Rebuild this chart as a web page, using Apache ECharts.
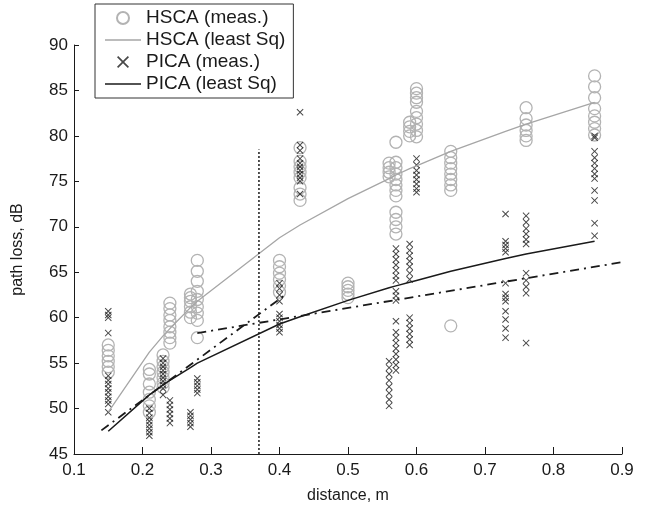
<!DOCTYPE html>
<html>
<head>
<meta charset="utf-8">
<title>path loss vs distance</title>
<script src="https://cdn.jsdelivr.net/npm/echarts@6/dist/echarts.min.js"></script>
<style>
  html, body { margin: 0; padding: 0; background: #fff; }
  #chart { width: 660px; height: 513px; }
</style>
</head>
<body>
<div id="chart"></div>
<script>
'use strict';

// measured path loss (dB), grouped by distance (m)
const hscaDist = [0.15, 0.21, 0.23, 0.24, 0.27, 0.28, 0.40, 0.43, 0.50, 0.56, 0.57, 0.59, 0.60, 0.65, 0.76, 0.86];
const hscaMeas = [
    [57.0, 56.4, 55.8, 55.2, 54.6, 54.0],
    [54.3, 53.8, 52.7, 51.8, 51.0, 50.3, 49.6],
    [55.9, 55.2, 54.6, 54.0, 53.4, 52.8, 52.3],
    [61.6, 61.0, 60.3, 59.7, 59.0, 58.4, 57.8, 57.2],
    [62.6, 62.2, 61.8, 61.2, 60.6, 60.0],
    [66.3, 65.1, 64.0, 62.9, 62.0, 61.2, 60.5, 59.7, 57.8],
    [66.3, 65.6, 64.9, 64.2, 63.5, 62.8],
    [78.7, 77.2, 76.6, 76.0, 75.4, 74.3, 73.6, 72.9],
    [63.8, 63.4, 63.0, 62.6, 62.2],
    [77.0, 76.5, 76.0, 75.5],
    [79.3, 77.1, 76.5, 75.8, 75.2, 74.6, 74.0, 73.4, 71.6, 70.8, 70.0, 69.2],
    [81.5, 81.0, 80.5, 80.0],
    [85.2, 84.7, 84.2, 83.7, 82.7, 82.0, 81.3, 80.6, 79.9],
    [78.3, 77.6, 77.0, 76.4, 75.8, 75.2, 74.6, 74.0, 59.1],
    [83.1, 81.9, 81.2, 80.6, 80.0, 79.5],
    [86.6, 85.4, 84.2, 83.0, 82.2, 81.5, 80.8, 80.1]
];

const picaDist = [0.15, 0.21, 0.23, 0.24, 0.27, 0.28, 0.40, 0.43, 0.56, 0.57, 0.59, 0.60, 0.73, 0.76, 0.86];
const picaMeas = [
    [60.7, 60.3, 60.0, 58.3, 53.6, 53.1, 52.7, 52.2, 51.8, 51.3, 50.9, 50.5, 49.6],
    [50.0, 49.5, 49.0, 48.6, 48.2, 47.8, 47.4, 47.0],
    [55.5, 55.0, 54.6, 54.2, 53.8, 53.4, 53.0, 52.6, 52.2, 51.5],
    [50.9, 50.4, 49.9, 49.4, 48.9, 48.4],
    [49.6, 49.2, 48.8, 48.4, 48.0],
    [53.3, 52.9, 52.5, 52.1, 51.7],
    [63.8, 63.2, 62.5, 61.8, 60.4, 60.0, 59.6, 59.2, 58.8, 58.4],
    [82.6, 79.0, 78.4, 77.5, 77.0, 76.6, 76.2, 75.8, 75.4, 75.0, 73.6],
    [55.2, 54.5, 53.8, 53.1, 52.4, 51.7, 51.0, 50.3],
    [67.6, 67.0, 66.4, 65.8, 65.2, 64.6, 64.1, 62.9, 62.4, 61.9, 59.6, 58.4, 57.8, 57.2, 56.6, 56.0, 55.4, 54.8, 54.2],
    [68.1, 67.4, 66.8, 66.2, 65.6, 64.9, 64.2, 60.0, 59.4, 58.8, 58.2, 57.6, 57.0],
    [77.5, 76.8, 76.2, 75.7, 75.2, 74.7, 74.2, 73.8],
    [71.4, 68.4, 68.0, 67.6, 67.2, 63.8, 62.6, 62.2, 61.8, 60.7, 59.8, 58.8, 57.8],
    [71.2, 70.5, 69.8, 69.2, 68.6, 68.1, 64.9, 64.1, 63.4, 62.7, 57.2],
    [80.0, 79.8, 78.3, 77.6, 77.0, 76.4, 75.8, 75.3, 74.0, 72.9, 70.4, 69.0]
];

// least squares fits
const fitDist = [0.15, 0.21, 0.23, 0.24, 0.27, 0.28, 0.40, 0.43, 0.50, 0.56, 0.57, 0.59, 0.60, 0.65, 0.73, 0.76, 0.86];
const hscaFit = [49.6, 56.2, 58.0, 58.8, 61.1, 61.8, 68.8, 70.2, 73.1, 75.3, 75.7, 76.4, 76.7, 78.3, 80.5, 81.3, 83.7];
const picaFit = [47.5, 51.5, 52.6, 53.1, 54.5, 55.0, 59.3, 60.1, 61.9, 63.3, 63.5, 63.9, 64.1, 65.1, 66.5, 67.0, 68.4];

// dual-slope model and break point
const nearDist = [0.14, 0.41];
const nearLoss = [47.6, 62.6];
const farDist = [0.28, 0.90];
const farLoss = [58.3, 66.1];
const breakDist = [0.37, 0.37];
const breakLoss = [45, 78.5];

const xTicks = [0.1, 0.9, 0.1];   // min, max, step
const yTicks = [45, 90, 5];

const pairs = (xs, ys) => xs.map((x, i) => [x, ys[i]]);
const groups = (xs, yss) => xs.flatMap((x, i) => yss[i].map(y => [x, y]));

const crossPath = 'path://M0,1L1,0L5,4L9,0L10,1L6,5L10,9L9,10L5,6L1,10L0,9L4,5Z';
const linePath = 'path://M0,0L36,0L36,1.3L0,1.3Z';
const font = '"Liberation Sans", Arial, sans-serif';
const ink = '#1a1a1a';

const chart = echarts.init(document.getElementById('chart'), null, { renderer: 'canvas' });

chart.setOption({
    animation: false,
    textStyle: { fontFamily: font, color: ink },
    grid: { left: 74, right: 38, top: 45, bottom: 59 },
    legend: {
        orient: 'vertical',
        left: 95,
        top: 4,
        padding: [4, 8, 4, 10],
        itemGap: 2,
        itemWidth: 36,
        itemHeight: 12,
        itemTextGap: 13,
        borderColor: '#333',
        borderWidth: 1,
        textStyle: { fontSize: 19, lineHeight: 20, color: ink, fontFamily: font },
        data: [
            { name: 'HSCA (meas.)' },
            { name: 'HSCA (least Sq)', icon: linePath },
            { name: 'PICA (meas.)' },
            { name: 'PICA (least Sq)', icon: linePath }
        ]
    },
    xAxis: {
        type: 'value',
        min: xTicks[0],
        max: xTicks[1],
        interval: xTicks[2],
        name: 'distance, m',
        nameLocation: 'middle',
        nameGap: 34,
        nameTextStyle: { fontSize: 16, color: ink },
        axisLine: { lineStyle: { color: ink, width: 1 } },
        axisTick: { inside: true, length: 7, lineStyle: { color: ink } },
        axisLabel: { fontSize: 17, color: ink, margin: 8, formatter: v => v.toFixed(1) },
        splitLine: { show: false }
    },
    yAxis: {
        type: 'value',
        min: yTicks[0],
        max: yTicks[1],
        interval: yTicks[2],
        name: 'path loss, dB',
        nameLocation: 'middle',
        nameGap: 48,
        nameTextStyle: { fontSize: 16, color: ink },
        axisLine: { show: true, lineStyle: { color: ink, width: 1 } },
        axisTick: { show: true, inside: true, length: 5, lineStyle: { color: ink } },
        axisLabel: { fontSize: 17, color: ink, margin: 6 },
        splitLine: { show: false }
    },
    series: [
        {
            name: 'HSCA (meas.)',
            type: 'scatter',
            symbol: 'circle',
            symbolSize: 12,
            itemStyle: { color: 'rgba(0,0,0,0)', borderColor: '#b3b3b3', borderWidth: 1.3, opacity: 1 },
            data: groups(hscaDist, hscaMeas)
        },
        {
            name: 'PICA (meas.)',
            type: 'scatter',
            symbol: crossPath,
            symbolSize: 7,
            itemStyle: { color: ink },
            data: groups(picaDist, picaMeas)
        },
        {
            name: 'HSCA (least Sq)',
            type: 'line',
            symbol: 'none',
            lineStyle: { color: '#a6a6a6', width: 1.3 },
            itemStyle: { color: '#a6a6a6' },
            data: pairs(fitDist, hscaFit)
        },
        {
            name: 'PICA (least Sq)',
            type: 'line',
            symbol: 'none',
            lineStyle: { color: ink, width: 1.5 },
            itemStyle: { color: ink },
            data: pairs(fitDist, picaFit)
        },
        {
            name: 'near slope',
            type: 'line',
            symbol: 'none',
            lineStyle: { color: ink, width: 1.8, type: [9, 5, 2, 5] },
            data: pairs(nearDist, nearLoss)
        },
        {
            name: 'far slope',
            type: 'line',
            symbol: 'none',
            lineStyle: { color: ink, width: 1.8, type: [9, 5, 2, 5] },
            data: pairs(farDist, farLoss)
        },
        {
            name: 'break point',
            type: 'line',
            symbol: 'none',
            lineStyle: { color: ink, width: 1.5, type: [2, 2] },
            data: pairs(breakDist, breakLoss)
        }
    ]
});

window.addEventListener('resize', () => chart.resize());
</script>
</body>
</html>
